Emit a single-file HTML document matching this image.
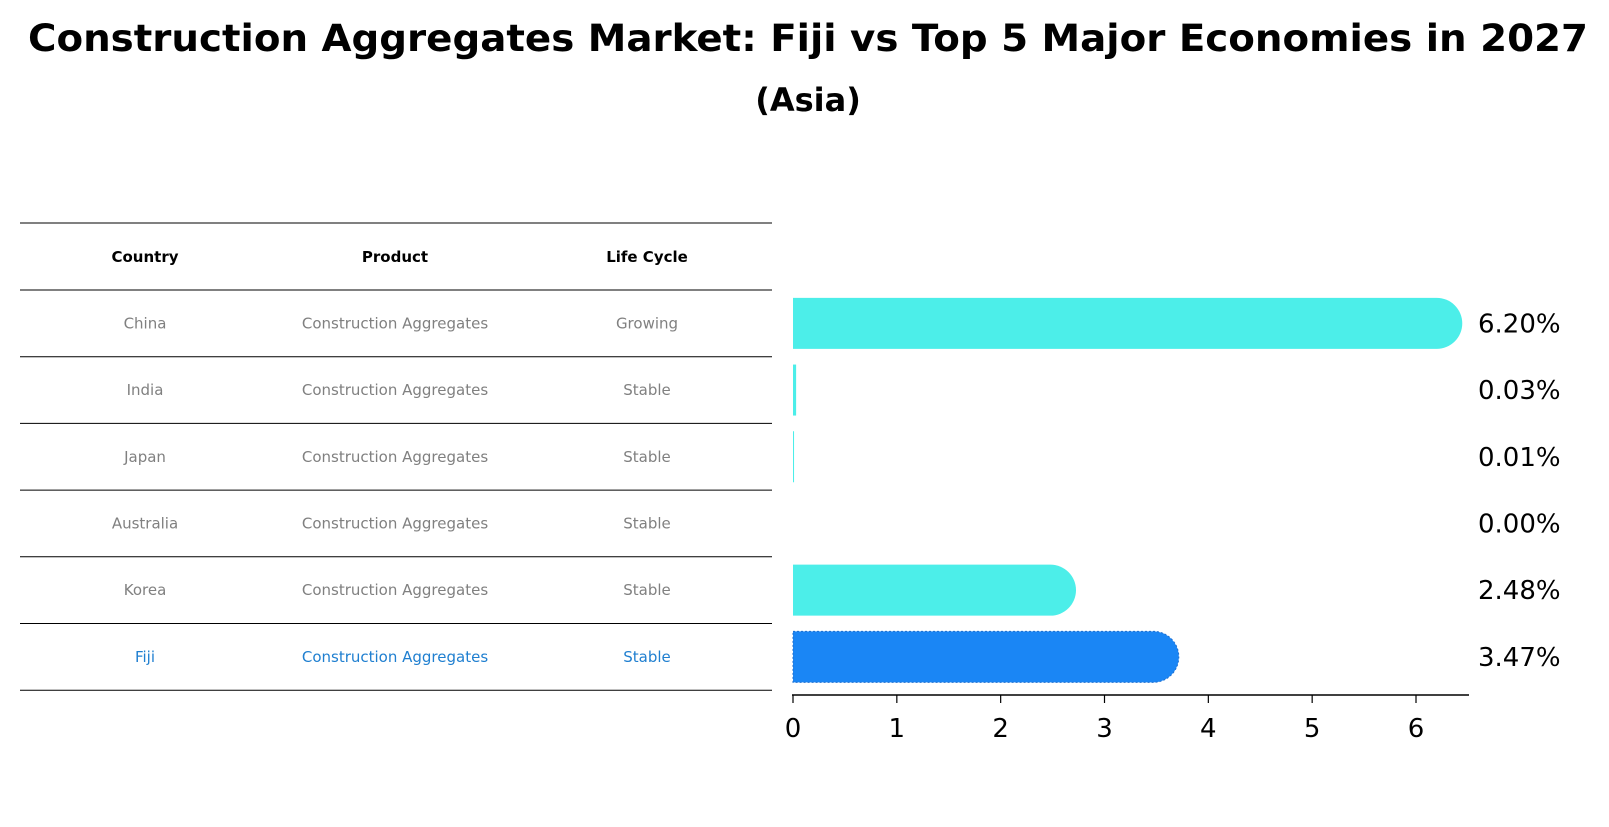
<!DOCTYPE html>
<html><head><meta charset="utf-8"><style>
body{margin:0;background:#fff;font-family:"DejaVu Sans","Liberation Sans",sans-serif;}
</style></head><body>
<svg width="1609" height="823" xmlns="http://www.w3.org/2000/svg" font-family="DejaVu Sans, Liberation Sans, sans-serif">
<text x="808" y="51" text-anchor="middle" font-size="37" font-weight="bold" textLength="1560" lengthAdjust="spacingAndGlyphs">Construction Aggregates Market: Fiji vs Top 5 Major Economies in 2027</text>
<text x="808" y="111" text-anchor="middle" font-size="32" font-weight="bold">(Asia)</text>
<g id="table"></g>
<g id="bars"></g>
</svg>
<script>
const countries=["China","India","Japan","Australia","Korea","Fiji"];
const products=["Construction Aggregates","Construction Aggregates","Construction Aggregates","Construction Aggregates","Construction Aggregates","Construction Aggregates"];
const lifecycles=["Growing","Stable","Stable","Stable","Stable","Stable"];
const values=[6.20,0.03,0.01,0.00,2.48,3.47];
const ticks=[0,1,2,3,4,5,6];
const NS="http://www.w3.org/2000/svg";
function mk(t,a,p){const e=document.createElementNS(NS,t);for(const k in a)e.setAttribute(k,a[k]);p.appendChild(e);return e;}
const x=v=>793+v*(1416-793)/6;
const tbl=document.getElementById('table'),bars=document.getElementById('bars');
const top0=290,rh=66.7;
const lineYs=[223];for(let i=0;i<=6;i++)lineYs.push(top0+i*rh);
lineYs.forEach(y=>{const l=mk('line',{x1:20,x2:772,y1:y,y2:y,stroke:'#000','stroke-width':1},tbl);

});
const cols=[145,395,647];
["Country","Product","Life Cycle"].forEach((h,j)=>{const t=mk('text',{x:cols[j],y:262,'text-anchor':'middle','font-size':15,'font-weight':'bold'},tbl);t.textContent=h;

});
countries.forEach((c,i)=>{const y=top0+i*rh+rh/2+5;const col=c==="Fiji"?'#1f7fd0':'#808080';
[c,products[i],lifecycles[i]].forEach((s,j)=>{const t=mk('text',{x:cols[j],y:y,'text-anchor':'middle','font-size':15,fill:col},tbl);t.textContent=s;

});});
const bh=51;
values.forEach((v,i)=>{const cy=top0+i*rh+rh/2;const w=x(v)-x(0);const fill=countries[i]==="Fiji"?'#1a86f5':'#4ceee9';
if(v>0){
const d=w>5?`M${x(0)},${cy-bh/2} H${x(v)} A${bh/2},${bh/2} 0 0 1 ${x(v)},${cy+bh/2} H${x(0)} Z`:`M${x(0)},${cy-bh/2} H${x(0)+Math.max(w,1)} V${cy+bh/2} H${x(0)} Z`;
const p=mk('path',{d:d,fill:fill},bars);
if(countries[i]==="Fiji"){p.setAttribute('stroke','#1f6fd0');p.setAttribute('stroke-dasharray','2,2');}

}
const t=mk('text',{x:1478,y:cy+9,'font-size':26},bars);t.textContent=v.toFixed(2)+'%';

});
const ax=mk('line',{x1:792,x2:1469,y1:695,y2:695,stroke:'#000','stroke-width':1.5},bars);


ticks.forEach(tk=>{const l=mk('line',{x1:x(tk),x2:x(tk),y1:695,y2:703,stroke:'#000','stroke-width':1.2},bars);


const t=mk('text',{x:x(tk),y:737,'text-anchor':'middle','font-size':26},bars);t.textContent=tk;

});
</script>
</body></html>
